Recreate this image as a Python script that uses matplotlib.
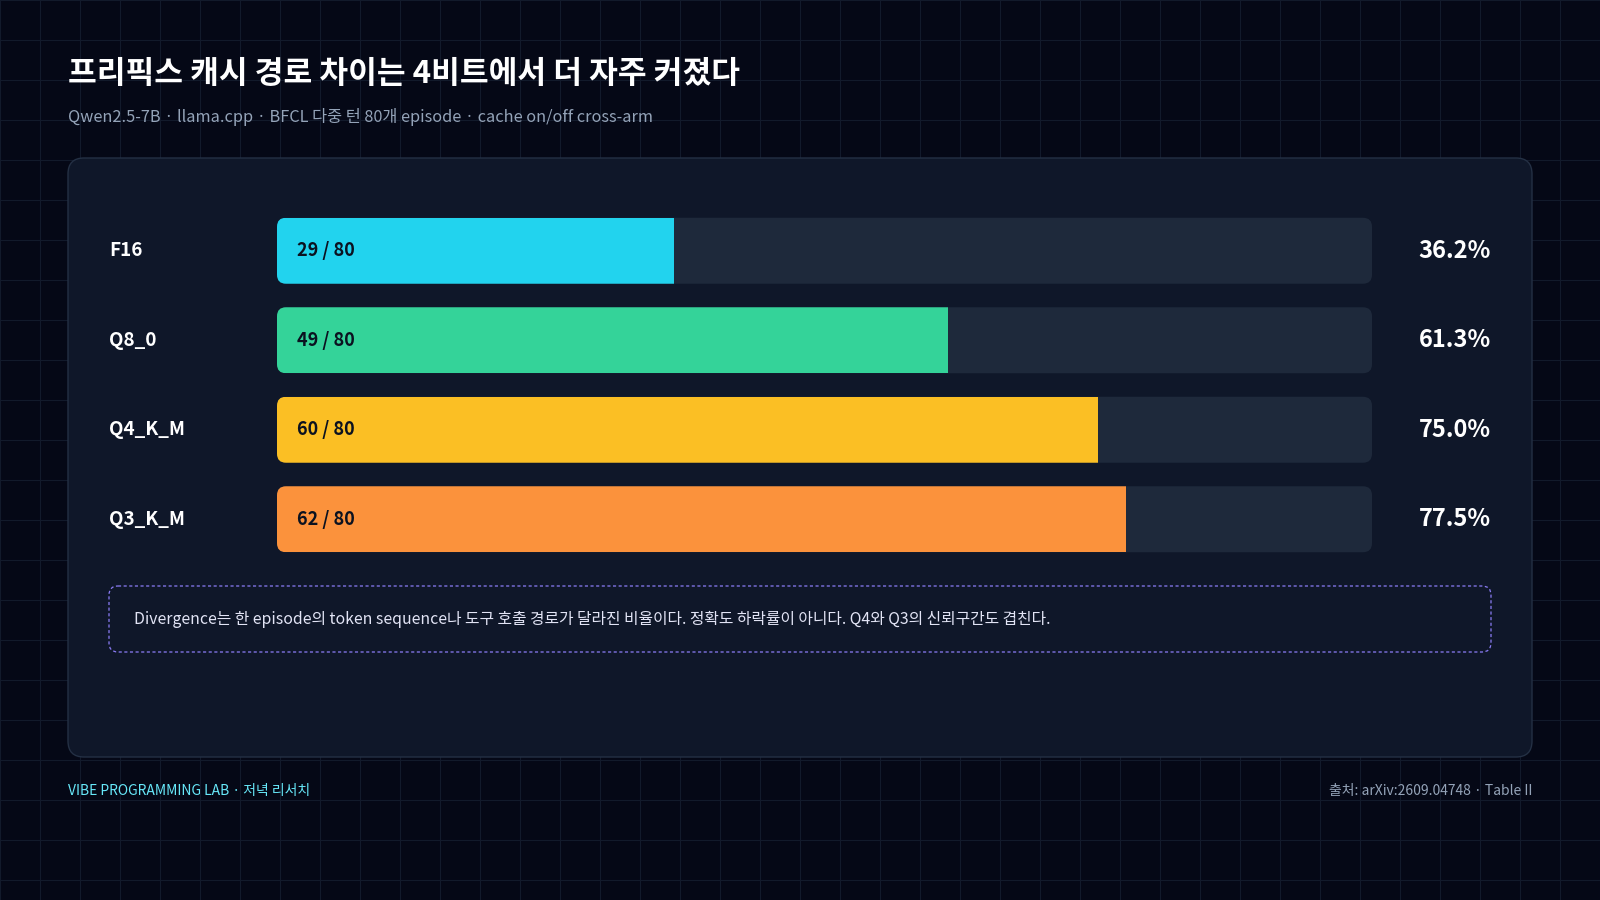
import matplotlib
matplotlib.use('Agg')
import matplotlib.pyplot as plt
from matplotlib.patches import FancyBboxPatch
import numpy as np

plt.rcParams['font.family'] = ['Noto Sans CJK KR', 'DejaVu Sans']

# 데이터
labels = ['F16', 'Q8_0', 'Q4_K_M', 'Q3_K_M']
diverged = [29, 49, 60, 62]
total = 80
pct = [36.2, 61.3, 75.0, 77.5]
colors = ['#22d3ee', '#34d399', '#fbbf24', '#fb923c']

title = '프리픽스 캐시 경로 차이는 4비트에서 더 자주 커졌다'
subtitle = 'Qwen2.5-7B · llama.cpp · BFCL 다중 턴 80개 episode · cache on/off cross-arm'
note = ('Divergence는 한 episode의 token sequence나 도구 호출 경로가 달라진 비율이다. '
        '정확도 하락률이 아니다. Q4와 Q3의 신뢰구간도 겹친다.')
footer_left = 'VIBE PROGRAMMING LAB · 저녁 리서치'
footer_right = '출처: arXiv:2609.04748 · Table II'

BG = '#050816'
PANEL = '#0f1729'
TRACK = '#1e293b'

W, H = 1600, 900
fig = plt.figure(figsize=(16, 9), dpi=100, facecolor=BG)

# 배경 (픽셀 좌표)
bg = fig.add_axes([0, 0, 1, 1])
bg.set_xlim(0, W)
bg.set_ylim(H, 0)
bg.axis('off')
bg.set_facecolor(BG)
for gx in range(0, W + 1, 40):
    bg.axvline(gx, color='#121a2b', lw=0.8, zorder=0)
for gy in range(0, H + 1, 40):
    bg.axhline(gy, color='#121a2b', lw=0.8, zorder=0)

# 패널
bg.add_patch(FancyBboxPatch((68, 158), 1464, 599,
                            boxstyle='round,pad=0,rounding_size=16',
                            fc=PANEL, ec='#243044', lw=1, zorder=1))

# 노트 박스
bg.add_patch(FancyBboxPatch((109, 586), 1382, 66,
                            boxstyle='round,pad=0,rounding_size=9',
                            fc=PANEL, ec='#8b7cf6', lw=0.9, ls=(0, (2.5, 2)), zorder=2))
bg.text(134, 619, note, color='#e2e4f5', fontsize=11.4, va='center', ha='left', zorder=3)

# 제목
bg.text(68, 74, title, color='white', fontsize=22.5, fontweight='bold', va='center', ha='left')
bg.text(68, 117, subtitle, color='#94a3b8', fontsize=11.75, va='center', ha='left')

# 푸터
bg.text(68, 791, footer_left, color='#67e8f9', fontsize=10, va='center', ha='left')
bg.text(1532, 791, footer_right, color='#94a3b8', fontsize=10, va='center', ha='right')

# 막대 영역
x0, x1 = 277, 1372
y_top, y_bot = 206, 564
ax = fig.add_axes([x0 / W, 1 - y_bot / H, (x1 - x0) / W, (y_bot - y_top) / H])
ax.set_xlim(0, total)
ax.set_ylim(len(labels) - 0.5, -0.5)
ax.axis('off')

bar_h = 0.737
px_x = (x1 - x0) / total
px_y = (y_bot - y_top) / len(labels)
r = 9 / px_x
y = np.arange(len(labels))

for i in range(len(labels)):
    track = FancyBboxPatch((0, y[i] - bar_h / 2), total, bar_h,
                           boxstyle=f'round,pad=0,rounding_size={r}',
                           mutation_aspect=px_x / px_y,
                           fc=TRACK, ec='none', zorder=1)
    ax.add_patch(track)
    bars = ax.barh(y[i], diverged[i], height=bar_h, left=0, color=colors[i], zorder=2)
    bars[0].set_clip_path(track)
    ax.text(20 / px_x, y[i], f'{diverged[i]} / {total}', color='#0b1220',
            fontsize=13, fontweight='bold', va='center', ha='left', zorder=3)

lab_tr = ax.get_yaxis_transform()
for i in range(len(labels)):
    ax.text((109 - x0) / (x1 - x0), y[i], labels[i], transform=lab_tr, color='white',
            fontsize=13.6, fontweight='bold', va='center', ha='left', clip_on=False)
    ax.text((1491 - x0) / (x1 - x0), y[i], f'{pct[i]:.1f}%', transform=lab_tr, color='white',
            fontsize=17, fontweight='bold', va='center', ha='right', clip_on=False)

fig.savefig('out.png', dpi=100, facecolor=BG)
